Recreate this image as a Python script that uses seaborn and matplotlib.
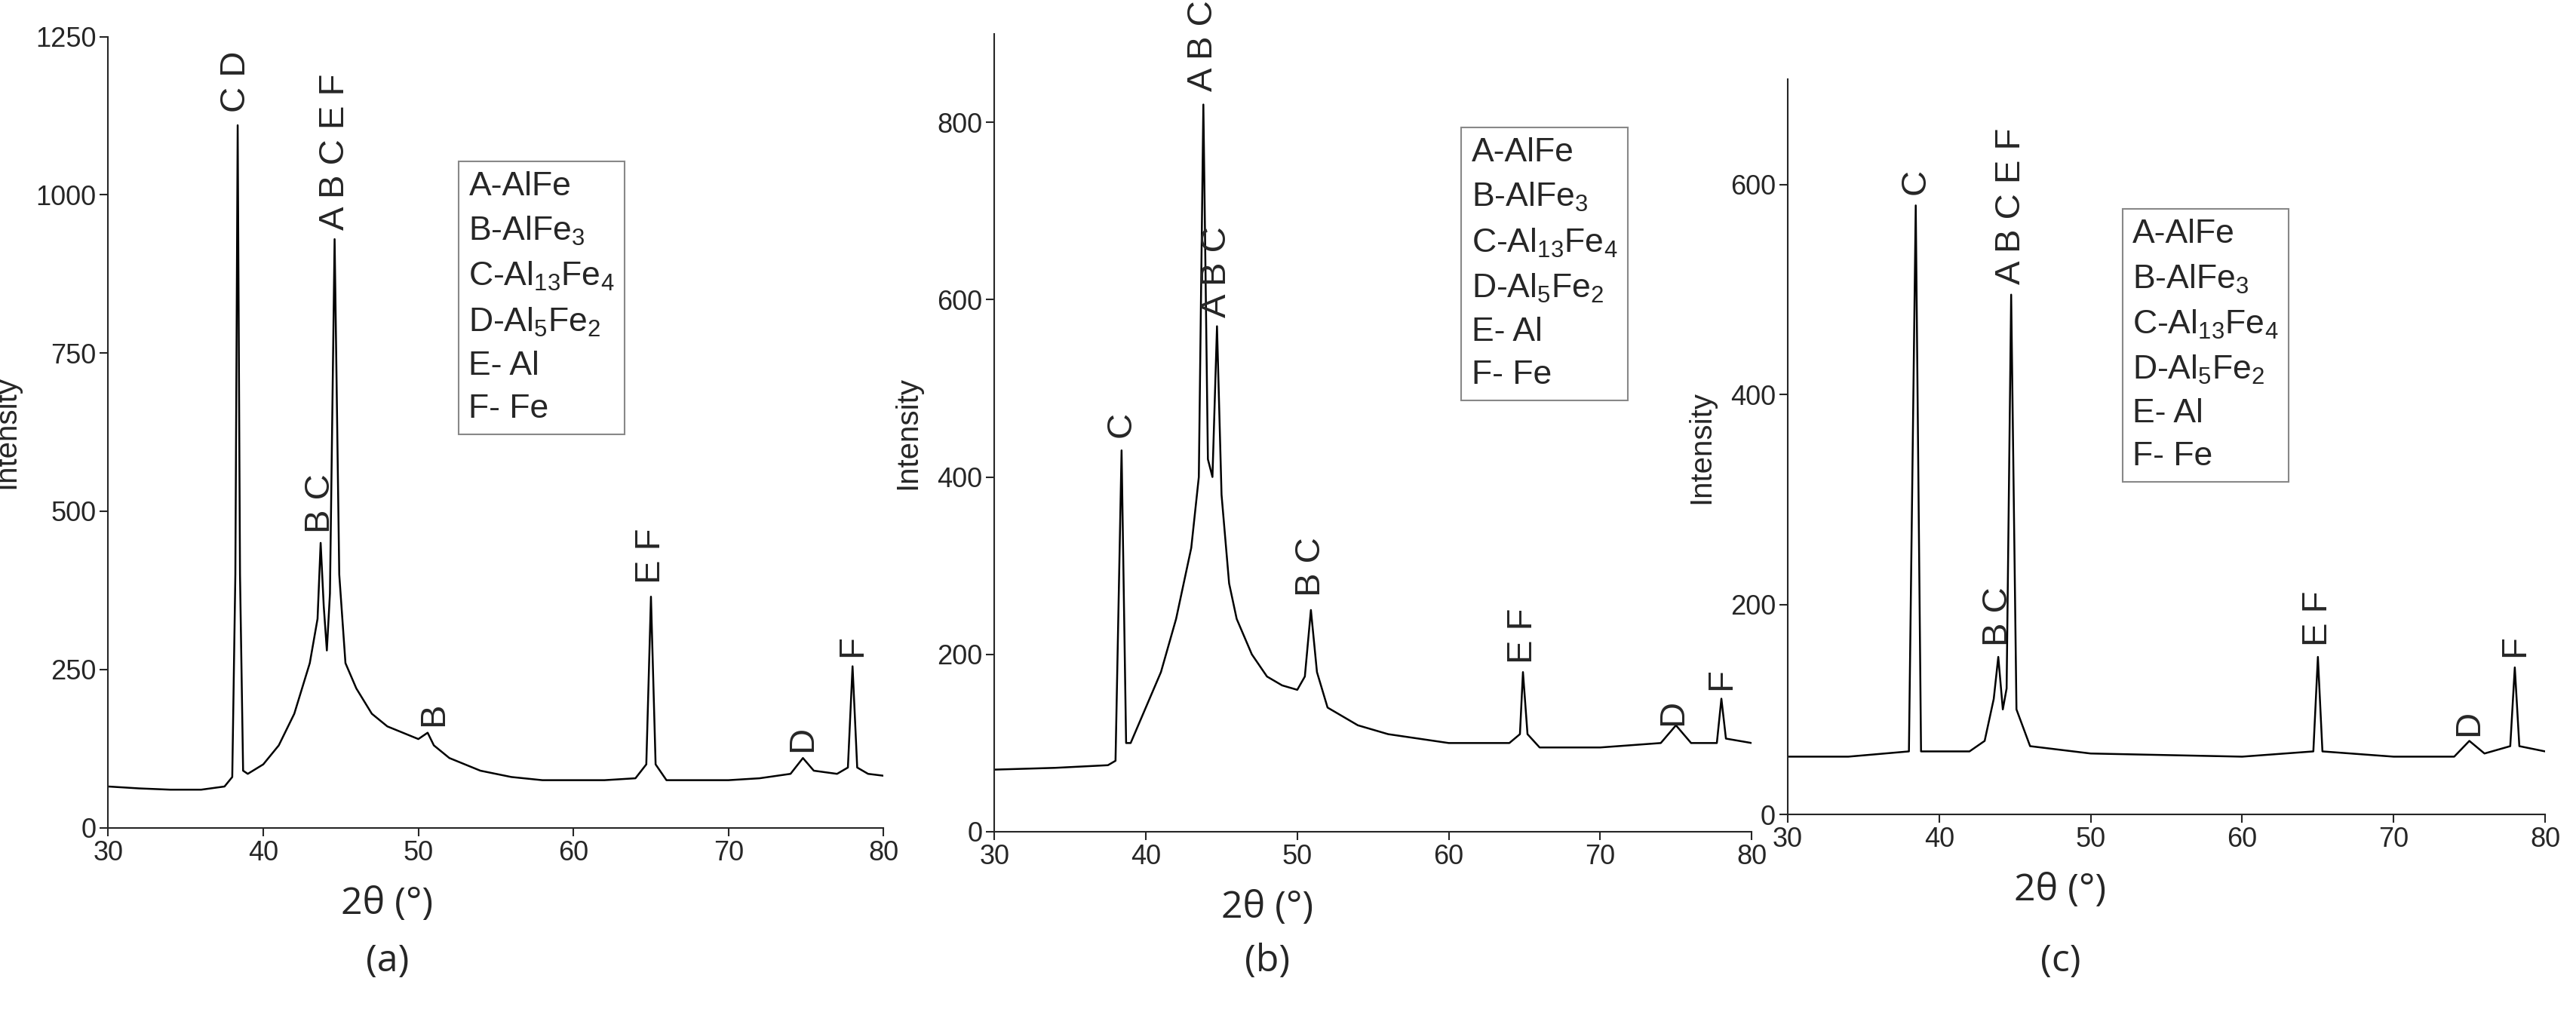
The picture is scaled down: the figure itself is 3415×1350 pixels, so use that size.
import matplotlib
matplotlib.use("Agg")
import matplotlib.pyplot as plt
import seaborn as sns

sns.set_style("ticks")
plt.rcParams["font.family"] = ["Liberation Sans", "DejaVu Sans"]
plt.rcParams["mathtext.fontset"] = "custom"
plt.rcParams["mathtext.rm"] = "Liberation Sans"

# ---------------------------------------------------------------------------
# Data (2theta, intensity)
# ---------------------------------------------------------------------------
x_a = [30, 32, 34, 36, 37.5, 38.0, 38.2, 38.35, 38.5, 38.7, 39, 40, 41, 42, 43, 43.5,
       43.7, 43.9, 44.1, 44.3, 44.6, 44.9, 45.3, 46, 47, 48, 49, 50, 50.6, 51, 52, 54,
       56, 58, 60, 62, 64, 64.7, 65.0, 65.3, 66, 68, 70, 72, 74, 74.8, 75.5, 77, 77.7,
       78.0, 78.3, 79, 80]
y_a = [65, 62, 60, 60, 65, 80, 400, 1110, 400, 90, 85, 100, 130, 180, 260, 330,
       450, 350, 280, 370, 930, 400, 260, 220, 180, 160, 150, 140, 150, 130, 110, 90,
       80, 75, 75, 75, 78, 100, 365, 100, 75, 75, 75, 78, 85, 110, 90, 85, 95,
       255, 95, 85, 82]

x_b = [30, 34, 37.5, 38.0, 38.4, 38.7, 39, 40, 41, 42, 43, 43.5, 43.8, 44.1, 44.4,
       44.7, 45.0, 45.5, 46, 47, 48, 49, 50, 50.5, 50.9, 51.3, 52, 54, 56, 58, 60, 62,
       64, 64.7, 64.9, 65.2, 66, 70, 74, 75, 76, 77.7, 78, 78.3, 80]
y_b = [70, 72, 75, 80, 430, 100, 100, 140, 180, 240, 320, 400, 820, 420, 400,
       570, 380, 280, 240, 200, 175, 165, 160, 175, 250, 180, 140, 120, 110, 105, 100, 100,
       100, 110, 180, 110, 95, 95, 100, 120, 100, 100, 150, 105, 100]

x_c = [30, 34, 38.0, 38.45, 38.8, 42, 43, 43.6, 43.9, 44.2, 44.45, 44.75, 45.1, 46,
       50, 60, 64.7, 65.0, 65.3, 70, 74, 75, 76, 77.7, 78.0, 78.3, 80]
y_c = [55, 55, 60, 580, 60, 60, 70, 110, 150, 100, 120, 495, 100, 65,
       58, 55, 60, 150, 60, 55, 55, 70, 58, 65, 140, 65, 60]

ylims = [1250, 900, 700]
yticks = [[0, 250, 500, 750, 1000, 1250],
          [0, 200, 400, 600, 800],
          [0, 200, 400, 600]]

peaks_a = [(38.25, 1130, "C D"), (44.6, 945, "A B C E F"), (43.7, 465, "B C"),
           (51.0, 160, "B"), (65.0, 385, "E F"), (74.8, 120, "D"), (78.0, 270, "F")]
peaks_b = [(38.4, 445, "C"), (43.8, 835, "A B C E F"), (44.7, 580, "A B C"),
           (50.9, 265, "B C"), (64.9, 190, "E F"), (74.8, 120, "D"), (78.0, 160, "F")]
peaks_c = [(38.45, 590, "C"), (44.75, 505, "A B C E F"), (43.9, 160, "B C"),
           (65.0, 160, "E F"), (75.0, 75, "D"), (78.0, 150, "F")]

legend_text = ("A-AlFe\nB-AlFe$_3$\nC-Al$_{13}$Fe$_4$\nD-Al$_5$Fe$_2$\nE- Al\nF- Fe")

# ---------------------------------------------------------------------------
fig = plt.figure(figsize=(34.15, 13.5), dpi=100)
rects = [[0.042, 0.187, 0.301, 0.777],
         [0.386, 0.183, 0.294, 0.784],
         [0.694, 0.200, 0.294, 0.722]]
datasets = [(x_a, y_a, peaks_a), (x_b, y_b, peaks_b), (x_c, y_c, peaks_c)]
legend_pos = [(0.465, 0.83), (0.63, 0.87), (0.455, 0.81)]
sub_labels = ["(a)", "(b)", "(c)"]

for i, (rect, (xs, ys, peaks)) in enumerate(zip(rects, datasets)):
    ax = fig.add_axes(rect)
    sns.lineplot(x=xs, y=ys, ax=ax, color="black", linewidth=1.8)
    ax.set_xlim(30, 80)
    ax.set_ylim(0, ylims[i])
    ax.set_xticks([30, 40, 50, 60, 70, 80])
    ax.set_yticks(yticks[i])
    ax.tick_params(labelsize=26, width=1.5, length=8)
    for s in ["left", "bottom"]:
        ax.spines[s].set_linewidth(1.5)
    sns.despine(ax=ax)
    ax.set_ylabel("Intensity", fontsize=29, labelpad=14)
    for px, py, lab in peaks:
        ax.text(px, py, lab, rotation=90, ha="center", va="bottom", fontsize=34)
    lx, ly = legend_pos[i]
    ax.text(lx, ly, legend_text, transform=ax.transAxes, ha="left", va="top",
            fontsize=32, linespacing=1.5,
            bbox=dict(boxstyle="square,pad=0.3", facecolor="white",
                      edgecolor="#888888", linewidth=1.5))
    cx = rect[0] + rect[2] * 0.36
    fig.text(cx, rect[1] - 0.075, "2θ (°)", ha="center", va="center", fontsize=36,
             family=["Open Sans", "DejaVu Sans"])
    fig.text(cx, 0.055, sub_labels[i], ha="center", va="center", fontsize=36,
             family=["Open Sans", "DejaVu Sans"])

fig.savefig("out.png", dpi=100)
